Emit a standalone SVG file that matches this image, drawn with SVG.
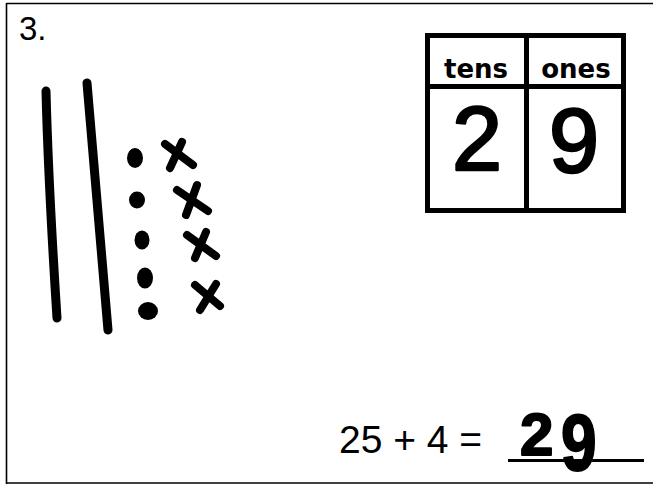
<svg xmlns="http://www.w3.org/2000/svg" width="653" height="487" viewBox="0 0 653 487">
<style>
.frame{fill:none;stroke:#000;stroke-width:1.6}
.rod{fill:none;stroke:#000;stroke-width:9;stroke-linecap:round}
.x{fill:none;stroke:#000;stroke-width:8;stroke-linecap:round}
.dot{fill:#000}
.tbl{fill:none;stroke:#000;stroke-width:5}
.head{font-family:"DejaVu Sans",sans-serif;font-weight:bold;font-size:26px;text-anchor:middle;fill:#000}
.digit{font-family:"Liberation Sans",Arial,sans-serif;font-size:90px;text-anchor:middle;fill:#000;stroke:#000;stroke-width:2.5;stroke-linejoin:round}
.eq{font-family:"Liberation Sans",Arial,sans-serif;font-size:39px;fill:#000}
.ans{font-family:"Liberation Sans",Arial,sans-serif;font-weight:bold;fill:#000;stroke:#000;stroke-width:2;stroke-linejoin:round}
</style>
<rect width="653" height="487" fill="#fff"/>
<g id="frame">
<line class="frame" x1="6.5" y1="3.5" x2="653" y2="3.5"/>
<line class="frame" x1="6.5" y1="3" x2="6.5" y2="484"/>
<line class="frame" x1="6" y1="483" x2="653" y2="483"/>
</g>
<g id="label">
<text x="19" y="40" font-family="Liberation Sans,Arial,sans-serif" font-size="33" fill="#000">3.</text>
</g>
<g id="rods">
<path class="rod" d="M46,91 C48,170 52,240 57,318"/>
<path class="rod" d="M87,83 C94,160 100,240 108,330"/>
</g>
<g id="dots">
<ellipse class="dot" cx="135" cy="158" rx="8" ry="10"/>
<ellipse class="dot" cx="137" cy="200" rx="8" ry="8.5"/>
<ellipse class="dot" cx="142" cy="240" rx="7.5" ry="9.5"/>
<ellipse class="dot" cx="145" cy="278" rx="8" ry="10.5"/>
<ellipse class="dot" cx="148" cy="311" rx="10" ry="9"/>
</g>
<g id="crosses">
<path class="x" d="M165,144 L193,165 M182,142 L170,168"/>
<path class="x" d="M177,190 L208,211 M197,185 L186,215"/>
<path class="x" d="M187,235 L216,256 M206,232 L195,258"/>
<path class="x" d="M195,285 L220,306 M216,284 L200,310"/>
</g>
<g id="place-value-table">
<rect class="tbl" x="427.5" y="35.5" width="196" height="175"/>
<line class="tbl" x1="427.5" y1="86.5" x2="623.5" y2="86.5"/>
<line class="tbl" x1="526.5" y1="35.5" x2="526.5" y2="210.5" stroke-width="3"/>
<text class="head" x="476" y="78">tens</text>
<text class="head" x="576" y="78">ones</text>
<text class="digit" x="477" y="170">2</text>
<text class="digit" x="574" y="172">9</text>
</g>
<g id="equation">
<text class="eq" x="339" y="453">25 + 4 =</text>
<line x1="508" y1="460.5" x2="644" y2="460.5" stroke="#000" stroke-width="3"/>
<text class="ans" x="520" y="455" font-size="60">2</text>
<text class="ans" x="0" y="0" font-size="80" transform="translate(561,470) scale(0.8,1)">9</text>
</g>
</svg>
